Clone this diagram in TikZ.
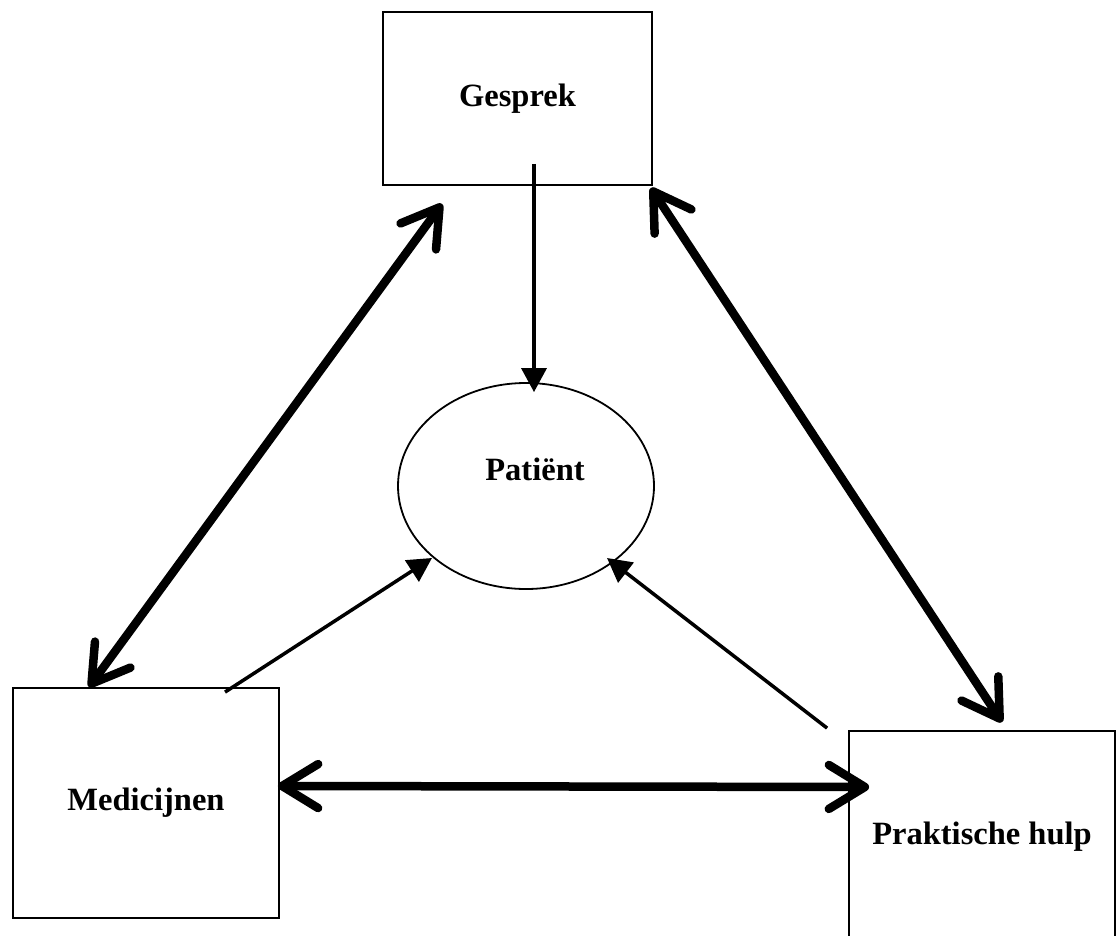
\documentclass[tikz,border=0pt]{standalone}
\usepackage{fontspec}
\setmainfont{Liberation Serif}
\usepackage{tikz}
\usetikzlibrary{arrows.meta,positioning,shapes.geometric}
\newcommand{\labelfont}{\fontsize{32.5}{37}\selectfont\bfseries}
\tikzset{
  box/.style={rectangle, draw=black, fill=white, line width=1.8pt,
              align=center, inner sep=0pt, font=\labelfont},
  rondje/.style={ellipse, draw=black, fill=white, line width=1.8pt,
                 align=center, inner sep=0pt, font=\labelfont},
  pijl/.style={-{Triangle[length=24pt,width=25pt]}, draw=black, line width=3.5pt},
  dubbel/.style={{Straight Barb[length=36pt,width=44pt,round]}-{Straight Barb[length=36pt,width=44pt,round]},
                 draw=black, line width=8.5pt}
}

\begin{document}
\begin{tikzpicture}[x=1pt, y=-1pt]
  \path[use as bounding box, fill=white] (0,0) rectangle (1116,936);
  \node[box, minimum width=269pt, minimum height=173pt] (gesprek) at (517.5,98.5) {Gesprek};
  \node[rondje, minimum width=256pt, minimum height=206pt,
        label={[font=\labelfont, xshift=9pt, yshift=17pt]center:Patiënt}] (patient) at (526,486) {};
  \node[box, minimum width=266pt, minimum height=230pt] (medicijnen) at (146,803) {Medicijnen};
  \node[box, minimum width=266pt, minimum height=212pt] (praktisch) at (982,837) {Praktische hulp};
  % naar de patient
  \draw[pijl] ([xshift=16.5pt,yshift=22pt]gesprek.south) -- ([xshift=8pt,yshift=-10pt]patient.north);
  \draw[pijl] ([xshift=79pt,yshift=-5pt]medicijnen.north) -- ([xshift=-94pt,yshift=-72pt]patient.center);
  \draw[pijl] ([xshift=-21pt,yshift=2pt]praktisch.north west) -- ([xshift=81pt,yshift=-72pt]patient.center);
  % onderling
  \draw[dubbel] ([xshift=-75.5pt,yshift=-18pt]gesprek.south) -- ([xshift=-57pt]medicijnen.north);
  \draw[dubbel] ([xshift=-2pt,yshift=-2pt]gesprek.south east) -- ([xshift=20pt,yshift=8pt]praktisch.north);
  \draw[dubbel] ([xshift=-2pt,yshift=17pt]medicijnen.east) -- ([xshift=21pt,yshift=50pt]praktisch.west);
\end{tikzpicture}
\end{document}
